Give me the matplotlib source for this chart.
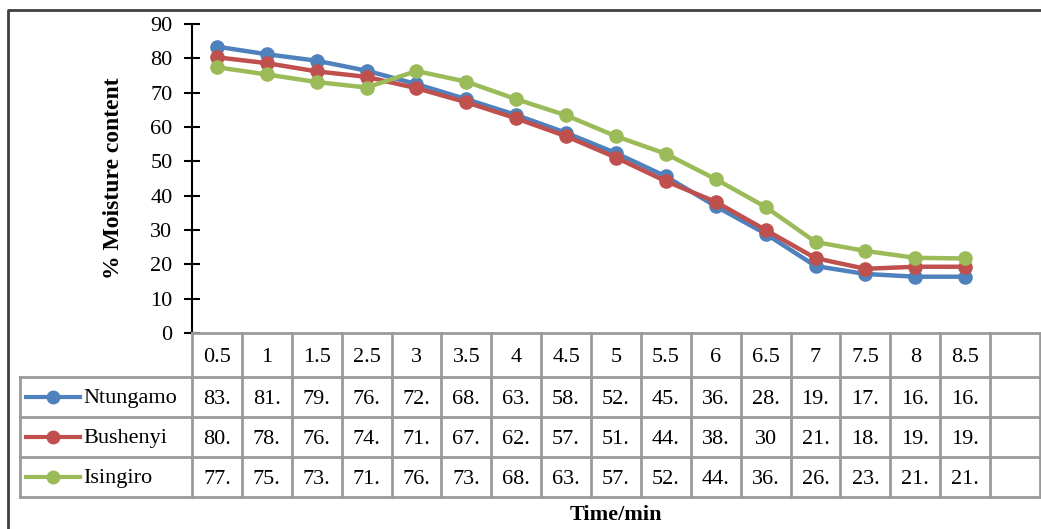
import matplotlib.pyplot as plt

plt.rcParams['font.family'] = ['Liberation Serif', 'DejaVu Serif']

times = ['0.5', '1', '1.5', '2.5', '3', '3.5', '4', '4.5',
         '5', '5.5', '6', '6.5', '7', '7.5', '8', '8.5']
ntungamo = [83.4, 81.2, 79.3, 76.4, 72.5, 68.1, 63.5, 58.3,
            52.4, 45.6, 36.9, 28.9, 19.5, 17.2, 16.4, 16.4]
bushenyi = [80.3, 78.6, 76.2, 74.6, 71.3, 67.2, 62.5, 57.3,
            51.1, 44.2, 38.2, 30, 21.8, 18.7, 19.3, 19.3]
isingiro = [77.4, 75.3, 73.1, 71.5, 76.3, 73.2, 68.1, 63.4,
            57.3, 52.2, 44.8, 36.7, 26.5, 23.9, 21.9, 21.7]

series = [('Ntungamo', ntungamo, '#4F81BD'),
          ('Bushenyi', bushenyi, '#C0504D'),
          ('Isingiro', isingiro, '#9BBB59')]

W, H = 1041, 529
fig = plt.figure(figsize=(W / 100, H / 100), dpi=100)

def px_box(x0, y0, x1, y1):
    # pixel box (top-left origin) -> figure fraction rect
    return [x0 / W, 1 - y1 / H, (x1 - x0) / W, (y1 - y0) / H]

# outer frame
frame = fig.add_axes([0, 0, 1, 1])
frame.set_xlim(0, W)
frame.set_ylim(H, 0)
frame.axis('off')
frame.plot([8, 8, W + 5], [H + 5, 10, 10], color='#404040', lw=2)

fs = 16
n_cols = len(times) + 1  # Excel leaves one empty category
x0, x1 = 192, 1040
ax = fig.add_axes(px_box(x0, 24, x1, 333))
xs = [i + 0.5 for i in range(len(times))]
for name, vals, col in series:
    ax.plot(xs, vals, color=col, lw=3.2, marker='o', ms=9.5, label=name,
            solid_capstyle='round')
ax.set_xlim(0, n_cols)
ax.set_ylim(0, 90)
ax.set_yticks(range(0, 91, 10))
ax.set_xticks([])
for s in ['top', 'right', 'bottom']:
    ax.spines[s].set_visible(False)
ax.spines['left'].set_linewidth(1.5)
ax.tick_params(axis='y', direction='inout', length=12, width=1.5,
               labelsize=fs, pad=8)
ax.set_ylabel('% Moisture content', fontsize=17, fontweight='bold', labelpad=19)

# data table under the plot
tab = fig.add_axes(px_box(18, 331, W, 499))
tab.set_xlim(18, W)
tab.set_ylim(499, 331)
tab.axis('off')
cw = (x1 - x0) / n_cols
grid = '#9a9a9a'
rows = [333, 377, 417, 457, 497]
tab.plot([x0, x1], [rows[0], rows[0]], color=grid, lw=2)
for y in rows[1:]:
    tab.plot([20, x1], [y, y], color=grid, lw=2)
for i in range(n_cols + 1):
    tab.plot([x0 + i * cw] * 2, [rows[0], rows[-1]], color=grid, lw=2)
tab.plot([20, 20], [rows[1], rows[-1]], color=grid, lw=2)

for i, t in enumerate(times):
    tab.text(x0 + (i + 0.5) * cw, (rows[0] + rows[1]) / 2 + 2, t,
             ha='center', va='center', fontsize=fs)

for r, (name, vals, col) in enumerate(series):
    yc = (rows[r + 1] + rows[r + 2]) / 2
    tab.plot([26, 80], [yc, yc], color=col, lw=3)
    tab.plot([53], [yc], marker='o', ms=9, color=col)
    tab.text(83, yc + 2, name, ha='left', va='center', fontsize=fs)
    for i, v in enumerate(vals):
        lab = str(int(v)) if float(v).is_integer() else f'{int(v)}.'
        tab.text(x0 + (i + 0.5) * cw, yc + 2, lab, ha='center', va='center',
                 fontsize=fs)

fig.text(616 / W, 1 - 515 / H, 'Time/min', ha='center', va='center',
         fontsize=fs, fontweight='bold')

fig.savefig('out.png', dpi=100)
